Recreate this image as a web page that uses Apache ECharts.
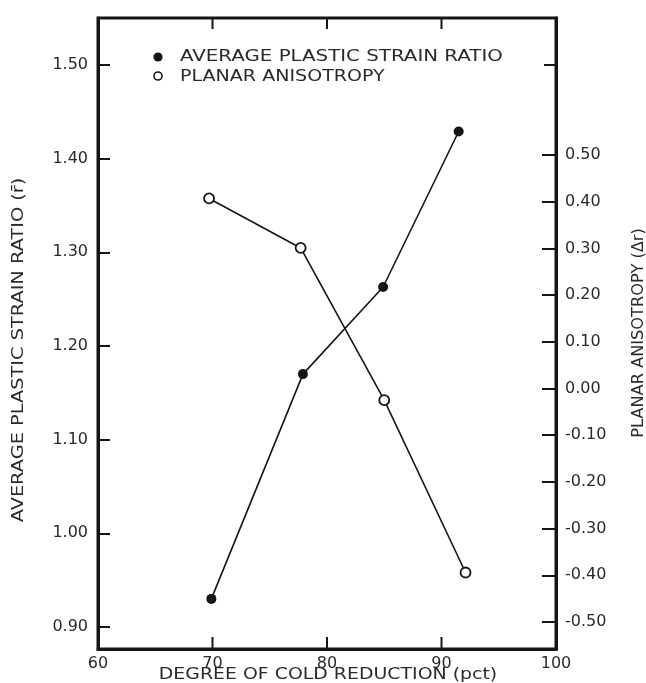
<!DOCTYPE html>
<html>
<head>
<meta charset="utf-8">
<script src="https://cdn.jsdelivr.net/npm/echarts@6/dist/echarts.min.js"></script>
<style>
  html, body { margin: 0; padding: 0; background: #fff; }
  #chart { width: 646px; height: 683px; }
</style>
</head>
<body>
<div id="chart"></div>
<script>
// Degree of cold reduction (pct) for each specimen
const reductionR = [69.9, 77.9, 84.9, 91.5];
const reductionDeltaR = [69.7, 77.7, 85.0, 92.1];
// Average plastic strain ratio r̄ (left axis)
const avgStrainRatio = [0.93, 1.17, 1.263, 1.429];
// Planar anisotropy Δr (right axis)
const planarAnisotropy = [0.407, 0.301, -0.025, -0.394];

// Tick values
const xTicks = [60, 70, 80, 90, 100];
const leftTicks = [0.90, 1.00, 1.10, 1.20, 1.30, 1.40, 1.50];
const rightTicks = [-0.50, -0.40, -0.30, -0.20, -0.10, 0.00, 0.10, 0.20, 0.30, 0.40, 0.50];

const seriesNames = ['AVERAGE PLASTIC STRAIN RATIO', 'PLANAR ANISOTROPY'];
const xTitle = 'DEGREE OF COLD REDUCTION (pct)';
const leftTitle = 'AVERAGE PLASTIC STRAIN RATIO (r\u0304)';
const rightTitle = 'PLANAR ANISOTROPY (\u0394r)';

const ink = '#151515';
const textInk = '#2a2a2a';
const font = 'DejaVu Sans';

const leftMin = 0.8765, leftMax = 1.5502;

const chart = echarts.init(document.getElementById('chart'), null, { renderer: 'canvas' });

const zip = (xs, ys) => xs.map((x, i) => [x, ys[i]]);

const tick = (len, values) => {
  const t = { show: true, inside: true, length: len, lineStyle: { color: ink, width: 2 } };
  if (values) t.customValues = values;
  return t;
};
const frameLine = () => ({ show: true, onZero: false, lineStyle: { color: ink, width: 3 } });

// short inward marks on the bottom and top frame at the inner x ticks
function renderFrameTick(params, api) {
  const v = api.value(0);
  const b = api.coord([v, leftMin]);
  const t = api.coord([v, leftMax]);
  const st = { stroke: ink, lineWidth: 2 };
  return {
    type: 'group',
    children: [
      { type: 'line', shape: { x1: b[0], y1: b[1], x2: b[0], y2: b[1] - 12 }, style: st },
      { type: 'line', shape: { x1: t[0], y1: t[1], x2: t[0], y2: t[1] + 11 }, style: st }
    ]
  };
}

chart.setOption({
  backgroundColor: '#ffffff',
  animation: false,
  grid: {
    left: 98, right: 90, top: 18, bottom: 34,
    show: true, borderColor: ink, borderWidth: 3, backgroundColor: 'transparent'
  },
  xAxis: [
    {
      type: 'value', position: 'bottom', min: xTicks[0], max: xTicks[xTicks.length - 1], interval: 10,
      axisLine: frameLine(),
      splitLine: { show: false },
      axisTick: { show: false },
      axisLabel: { margin: 7, fontFamily: font, fontSize: 16, color: textInk }
    }
  ],
  yAxis: [
    {
      type: 'value', position: 'left', min: leftMin, max: leftMax,
      axisLine: frameLine(),
      splitLine: { show: false },
      axisTick: tick(12, leftTicks),
      axisLabel: {
        customValues: leftTicks, margin: 10,
        formatter: v => v.toFixed(2),
        fontFamily: font, fontSize: 16, color: textInk
      }
    },
    {
      type: 'value', position: 'right', min: -0.5578, max: 0.7934,
      axisLine: frameLine(),
      splitLine: { show: false },
      axisTick: tick(14, rightTicks),
      axisLabel: {
        customValues: rightTicks, margin: 9,
        formatter: v => v.toFixed(2),
        fontFamily: font, fontSize: 16, color: textInk
      }
    },
    {
      // the strain-ratio scale repeated on the right frame (top tick only)
      type: 'value', position: 'right', min: leftMin, max: leftMax,
      axisLine: frameLine(),
      splitLine: { show: false },
      axisTick: tick(12, [leftTicks[leftTicks.length - 1]]),
      axisLabel: { show: false, customValues: [leftTicks[leftTicks.length - 1]] }
    }
  ],
  series: [
    {
      name: seriesNames[0], type: 'line', xAxisIndex: 0, yAxisIndex: 0,
      data: zip(reductionR, avgStrainRatio),
      symbol: 'circle', symbolSize: 10,
      lineStyle: { color: ink, width: 1.6 },
      itemStyle: { color: ink, borderWidth: 0 }
    },
    {
      name: seriesNames[1], type: 'line', xAxisIndex: 0, yAxisIndex: 1,
      data: zip(reductionDeltaR, planarAnisotropy),
      symbol: 'circle', symbolSize: 10,
      lineStyle: { color: ink, width: 1.6 },
      itemStyle: { color: '#ffffff', borderColor: ink, borderWidth: 1.8 }
    },
    {
      name: 'frame ticks', type: 'custom', xAxisIndex: 0, yAxisIndex: 0,
      silent: true, clip: false, z: 10,
      renderItem: renderFrameTick,
      encode: { x: 0, y: 1 },
      data: xTicks.slice(1, -1).map(v => [v, leftMin])
    }
  ],
  graphic: [
    // key
    { type: 'circle', shape: { cx: 158, cy: 57, r: 4.6 }, style: { fill: ink } },
    { type: 'circle', shape: { cx: 158, cy: 76, r: 4 }, style: { fill: '#fff', stroke: ink, lineWidth: 1.6 } },
    {
      type: 'text', x: 180, y: 57, scaleX: 1.32,
      style: { text: seriesNames[0], fontFamily: font, fontSize: 15, fill: textInk, align: 'left', verticalAlign: 'middle' }
    },
    {
      type: 'text', x: 180, y: 77, scaleX: 1.27,
      style: { text: seriesNames[1], fontFamily: font, fontSize: 15, fill: textInk, align: 'left', verticalAlign: 'middle' }
    },
    // axis titles
    {
      type: 'text', x: 328, y: 675, scaleX: 1.26,
      style: { text: xTitle, fontFamily: font, fontSize: 15, fill: textInk, align: 'center', verticalAlign: 'middle' }
    },
    {
      type: 'text', x: 19, y: 350, rotation: Math.PI / 2, scaleX: 1.29,
      style: { text: leftTitle, fontFamily: font, fontSize: 15, fill: textInk, align: 'center', verticalAlign: 'middle' }
    },
    {
      type: 'text', x: 639, y: 333, rotation: Math.PI / 2, scaleX: 1.08,
      style: { text: rightTitle, fontFamily: font, fontSize: 15, fill: textInk, align: 'center', verticalAlign: 'middle' }
    }
  ]
});
</script>
</body>
</html>
